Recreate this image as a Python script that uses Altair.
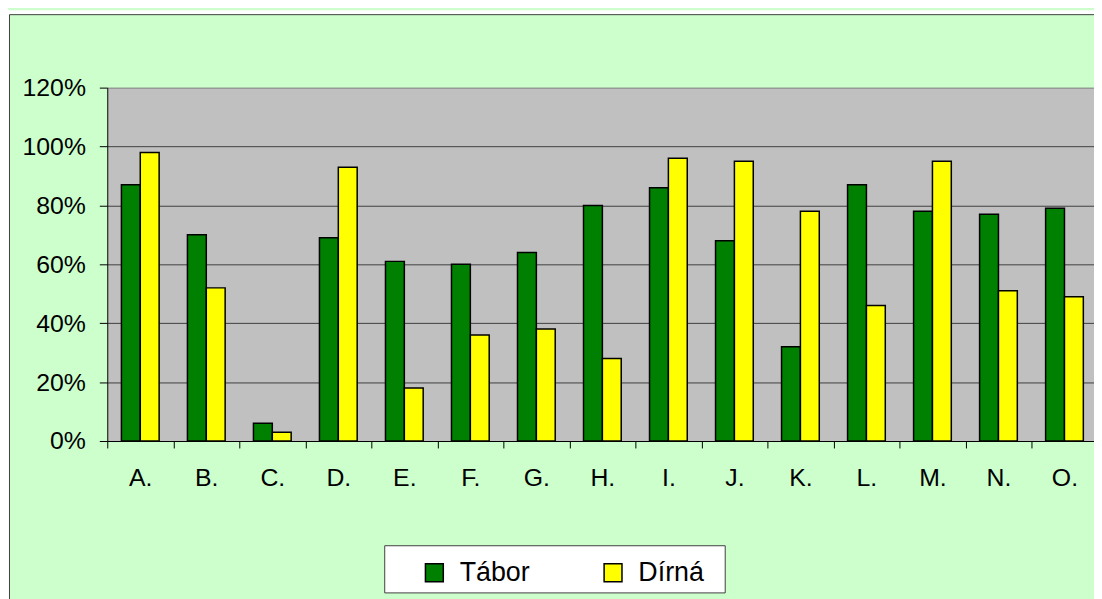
import altair as alt
import pandas as pd

categories = ["A.", "B.", "C.", "D.", "E.", "F.", "G.", "H.", "I.", "J.", "K.", "L.", "M.", "N.", "O."]
series = ["Tábor", "Dírná"]
tabor = [87, 70, 6, 69, 61, 60, 64, 80, 86, 68, 32, 87, 78, 77, 79]
dirna = [98, 52, 3, 93, 18, 36, 38, 28, 96, 95, 78, 46, 95, 51, 49]
colors = ["#008000", "#FFFF00"]
y_ticks = [0, 0.2, 0.4, 0.6, 0.8, 1.0, 1.2]

rows = []
for c, t, d in zip(categories, tabor, dirna):
    rows.append({"cat": c, "series": series[0], "value": t / 100})
    rows.append({"cat": c, "series": series[1], "value": d / 100})
df = pd.DataFrame(rows)

FONT = "Liberation Sans, Arial, sans-serif"
one = pd.DataFrame({"k": [0]})

bars = alt.Chart(df).mark_bar(stroke="black", strokeWidth=1.5).encode(
    x=alt.X(
        "cat:N",
        sort=categories,
        scale=alt.Scale(range=[0, 997.5], paddingInner=0, paddingOuter=0),
        axis=alt.Axis(
            title=None, labelAngle=0, tickBand="extent", tickSize=7, tickColor="black",
            domainColor="black", labelFontSize=25, labelFont=FONT, labelColor="black",
            labelPadding=18, grid=False,
        ),
    ),
    xOffset=alt.XOffset("series:N", sort=series,
                        scale=alt.Scale(domain=series, paddingInner=0, paddingOuter=0.75)),
    y=alt.Y(
        "value:Q",
        scale=alt.Scale(domain=[0, 1.2], nice=False),
        axis=alt.Axis(
            title=None, values=y_ticks, format=".0%", tickSize=8, tickColor="black",
            domainColor="black", labelFontSize=25, labelFont=FONT, labelColor="black",
            labelPadding=14, grid=True,
            gridColor={"condition": {"test": "datum.value >= 1.19", "value": "#808080"}, "value": "#404040"},
        ),
    ),
    color=alt.Color(
        "series:N",
        sort=series,
        scale=alt.Scale(domain=series, range=colors),
        title=None,
        legend=alt.Legend(
            orient="none", legendX=316, legendY=475, direction="horizontal",
            symbolType="square", symbolSize=324, symbolStrokeColor="black",
            symbolStrokeWidth=1.5, symbolOpacity=1, labelFontSize=27, labelFont=FONT,
            labelColor="black", labelOffset=12, columnPadding=70, padding=0,
        ),
    ),
)

white_left = alt.Chart(one).mark_rect(color="white").encode(
    x=alt.value(-100), x2=alt.value(-99), y=alt.value(-78), y2=alt.value(600))
white_top = alt.Chart(one).mark_rect(color="white").encode(
    x=alt.value(-100), x2=alt.value(1100), y=alt.value(-78), y2=alt.value(-74))
border_left = alt.Chart(one).mark_rule(color="#404040", strokeWidth=1).encode(
    x=alt.value(-98.5), y=alt.value(-73.5), y2=alt.value(600))
border_top = alt.Chart(one).mark_rule(color="#404040", strokeWidth=1).encode(
    x=alt.value(-98.5), x2=alt.value(1100), y=alt.value(-73.5))
legend_box = alt.Chart(one).mark_rect(fill="white", stroke="#404040", strokeWidth=1).encode(
    x=alt.value(279.5), x2=alt.value(622.5), y=alt.value(461.5), y2=alt.value(509))

chart = alt.layer(white_left, white_top, border_left, border_top, legend_box, bars).properties(
    width=994,
    height=356,
    autosize=alt.AutoSizeParams(type="none"),
    padding={"left": 100, "top": 78, "right": 0, "bottom": 165},
    background="#CCFFCC",
).configure_view(fill="#C0C0C0", stroke="transparent")

chart.save("out.html", embed_options={"renderer": "svg", "actions": False})
